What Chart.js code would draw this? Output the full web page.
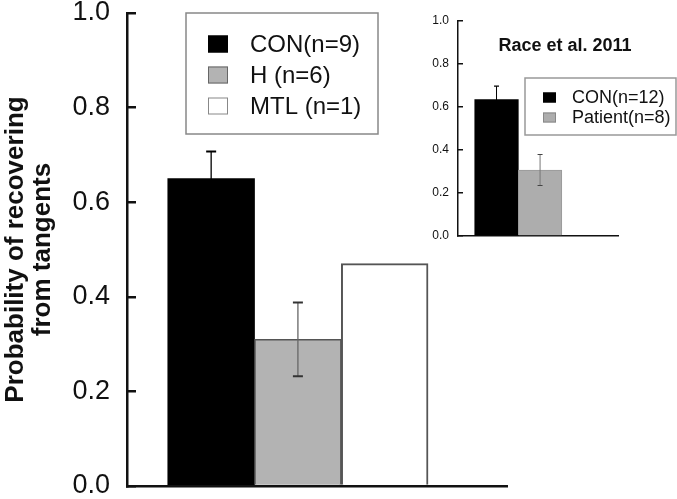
<!DOCTYPE html>
<html>
<head>
<meta charset="utf-8">
<script src="https://cdn.jsdelivr.net/npm/chart.js@4.4.0/dist/chart.umd.min.js"></script>
<style>
  html, body { margin: 0; padding: 0; background: #fff; }
  #wrap { position: relative; width: 677px; height: 499px; }
  #mainChart { position: absolute; left: 0; top: 0; }
  #insetChart { position: absolute; left: 400px; top: 0; }
</style>
</head>
<body>
<div id="wrap">
  <canvas id="mainChart" width="677" height="499"></canvas>
  <canvas id="insetChart" width="277" height="260"></canvas>
</div>
<script>
// main panel: probability of recovering from tangents
const groupLabels = ['CON(n=9)', 'H (n=6)', 'MTL (n=1)'];
const groupMeans = [0.65, 0.31, 0.47];
const groupErrors = [0.057, 0.078, null];

// inset: Race et al. 2011
const raceTitle = 'Race et al. 2011';
const raceLabels = ['CON(n=12)', 'Patient(n=8)'];
const raceMeans = [0.635, 0.307];
const raceErrors = [0.062, 0.072];

const yTicks = [0, 0.2, 0.4, 0.6, 0.8, 1.0];

const FONT = "'Liberation Sans', Arial, Helvetica, sans-serif";

// error bars drawn from each dataset's "errors" list
const errorBars = {
  id: 'errorBars',
  afterDatasetsDraw(chart, args, opts) {
    const ctx = chart.ctx;
    const ds = chart.data.datasets[0];
    const meta = chart.getDatasetMeta(0);
    const y = chart.scales.y;
    ctx.save();
    ds.errors.forEach((e, i) => {
      if (e == null) return;
      const bar = meta.data[i];
      const v = ds.data[i].y;
      const top = y.getPixelForValue(v + e);
      const bot = y.getPixelForValue(v - e);
      ctx.strokeStyle = opts.lineColor[i];
      ctx.lineWidth = opts.lineWidth;
      ctx.beginPath();
      ctx.moveTo(bar.x, top);
      ctx.lineTo(bar.x, bot);
      ctx.stroke();
      ctx.strokeStyle = opts.capColor[i];
      ctx.lineWidth = opts.capWidth;
      ctx.beginPath();
      ctx.moveTo(bar.x - opts.cap, top);
      ctx.lineTo(bar.x + opts.cap, top);
      ctx.moveTo(bar.x - opts.cap, bot);
      ctx.lineTo(bar.x + opts.cap, bot);
      ctx.stroke();
    });
    ctx.restore();
  }
};

// framed legend placed inside the plot
const boxLegend = {
  id: 'boxLegend',
  afterDraw(chart, args, o) {
    const ctx = chart.ctx;
    const ds = chart.data.datasets[0];
    ctx.save();
    ctx.fillStyle = '#fff';
    ctx.fillRect(o.x, o.y, o.w, o.h);
    ctx.strokeStyle = o.frame;
    ctx.lineWidth = 1.5;
    ctx.strokeRect(o.x, o.y, o.w, o.h);
    ctx.font = o.fontSize + 'px ' + FONT;
    ctx.textBaseline = 'middle';
    ctx.textAlign = 'left';
    chart.data.labels.forEach((lab, i) => {
      const cy = o.row0 + i * o.rowGap;
      ctx.fillStyle = ds.backgroundColor[i];
      ctx.fillRect(o.sx, cy - o.sh / 2, o.sw, o.sh);
      ctx.strokeStyle = o.swatchEdge[i];
      ctx.lineWidth = 1;
      ctx.strokeRect(o.sx + 0.5, cy - o.sh / 2 + 0.5, o.sw - 1, o.sh - 1);
      ctx.fillStyle = '#111';
      ctx.fillText(lab, o.tx, cy + 1);
    });
    ctx.restore();
  }
};

const panelTitle = {
  id: 'panelTitle',
  afterDraw(chart, args, o) {
    if (!o.text) return;
    const ctx = chart.ctx;
    ctx.save();
    ctx.font = 'bold ' + o.fontSize + 'px ' + FONT;
    ctx.fillStyle = '#111';
    ctx.textAlign = 'center';
    ctx.textBaseline = 'middle';
    ctx.fillText(o.text, o.x, o.y);
    ctx.restore();
  }
};

function yScale(o) {
  return {
    min: 0,
    max: 1,
    afterBuildTicks: s => { s.ticks = yTicks.map(v => ({value: v})); },
    afterFit: s => { s.width = o.width; s.paddingTop = 0; s.paddingBottom = 0; },
    ticks: {
      padding: o.pad,
      color: '#111',
      font: {family: FONT, size: o.font, lineHeight: 1},
      callback: v => Number(v).toFixed(1)
    },
    grid: {drawOnChartArea: false, drawTicks: true, tickLength: o.tick, color: '#111', lineWidth: o.lw},
    border: {color: '#111', width: o.lw},
    title: o.title || {display: false}
  };
}

function xScale(min, max, h, lw) {
  return {
    type: 'linear',
    min: min,
    max: max,
    afterBuildTicks: s => { s.ticks = []; },
    afterFit: s => { s.height = h; },
    ticks: {display: false},
    grid: {display: false},
    border: {color: '#111', width: lw}
  };
}

new Chart(document.getElementById('mainChart'), {
  type: 'bar',
  data: {
    labels: groupLabels,
    datasets: [{
      data: groupMeans.map((v, i) => ({x: i + 1, y: v})),
      errors: groupErrors,
      backgroundColor: ['#000000', '#b3b3b3', '#ffffff'],
      borderColor: ['#000000', '#555555', '#555555'],
      borderWidth: [0, 1.5, 2],
      barPercentage: 1,
      categoryPercentage: 1
    }]
  },
  options: {
    responsive: false,
    animation: false,
    layout: {padding: {top: 13, right: 170, bottom: 0, left: 0}},
    plugins: {
      legend: {display: false},
      tooltip: {enabled: false},
      errorBars: {
        lineColor: ['#000', '#666', '#666'], lineWidth: 1.3,
        capColor: ['#000', '#333', '#333'], capWidth: 2, cap: 5
      },
      boxLegend: {
        x: 186, y: 13, w: 192, h: 121, frame: '#888',
        row0: 44, rowGap: 31, sx: 208, sw: 20, sh: 17, tx: 250, fontSize: 24,
        swatchEdge: ['#000', '#666', '#888']
      }
    },
    scales: {
      x: xScale(0.03, 4.41, 13, 2.5),
      y: yScale({
        width: 127, pad: 26, font: 27, tick: -9, lw: 2.5,
        title: {
          display: true,
          text: ['Probability of recovering', 'from tangents'],
          color: '#111',
          font: {family: FONT, size: 26, weight: 'bold', lineHeight: 1.04},
          padding: {top: 2, bottom: 0}
        }
      })
    }
  },
  plugins: [errorBars, boxLegend]
});

new Chart(document.getElementById('insetChart'), {
  type: 'bar',
  data: {
    labels: raceLabels,
    datasets: [{
      data: raceMeans.map((v, i) => ({x: i + 1, y: v})),
      errors: raceErrors,
      backgroundColor: ['#000000', '#adadad'],
      borderColor: ['#000000', '#999999'],
      borderWidth: [0, 1],
      barPercentage: 1,
      categoryPercentage: 1
    }]
  },
  options: {
    responsive: false,
    animation: false,
    layout: {padding: {top: 21, right: 59, bottom: 0, left: 0}},
    plugins: {
      legend: {display: false},
      tooltip: {enabled: false},
      errorBars: {
        lineColor: ['#000', '#777'], lineWidth: 1,
        capColor: ['#000', '#444'], capWidth: 1.2, cap: 2.5
      },
      boxLegend: {
        x: 125, y: 78, w: 151, h: 57, frame: '#999',
        row0: 97.5, rowGap: 20, sx: 143, sw: 13, sh: 10, tx: 172, fontSize: 18,
        swatchEdge: ['#000', '#888']
      },
      panelTitle: {text: raceTitle, x: 165, y: 46, fontSize: 18}
    },
    scales: {
      x: xScale(0.115, 3.79, 24, 1.5),
      y: yScale({width: 58, pad: 14, font: 12, tick: -5, lw: 1.5})
    }
  },
  plugins: [errorBars, boxLegend, panelTitle]
});
</script>
</body>
</html>
